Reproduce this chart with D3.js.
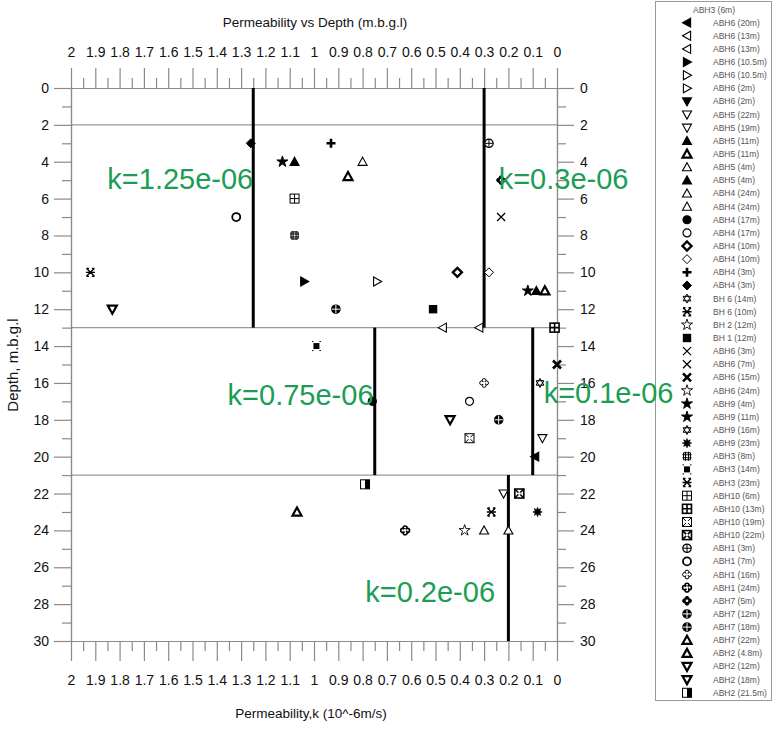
<!DOCTYPE html>
<html>
<head>
<meta charset="utf-8">
<script src="https://cdn.jsdelivr.net/npm/d3@7"></script>
<style>
  body { margin: 0; background: #fff; }
  svg { font-family: "Liberation Sans", Arial, sans-serif; }
  .tick text { font-size: 14px; fill: #111; }
  .klabel { font-size: 29px; fill: #1c9d55; }
  .leg text { font-size: 8.5px; fill: #555; }
</style>
</head>
<body>
<svg id="chart" width="774" height="729"></svg>
<script>
// legend entries, top to bottom (first one has no marker)
const legendLabels = [
  "ABH3 (6m)", "ABH6 (20m)", "ABH6 (13m)", "ABH6 (13m)", "ABH6 (10.5m)", "ABH6 (10.5m)",
  "ABH6 (2m)", "ABH6 (2m)", "ABH5 (22m)", "ABH5 (19m)", "ABH5 (11m)", "ABH5 (11m)",
  "ABH5 (4m)", "ABH5 (4m)", "ABH4 (24m)", "ABH4 (24m)", "ABH4 (17m)", "ABH4 (17m)",
  "ABH4 (10m)", "ABH4 (10m)", "ABH4 (3m)", "ABH4 (3m)", "BH 6 (14m)", "BH 6 (10m)",
  "BH 2 (12m)", "BH 1 (12m)", "ABH6 (3m)", "ABH6 (7m)", "ABH6 (15m)", "ABH6 (24m)",
  "ABH9 (4m)", "ABH9 (11m)", "ABH9 (16m)", "ABH9 (23m)", "ABH3 (8m)", "ABH3 (14m)",
  "ABH3 (23m)", "ABH10 (6m)", "ABH10 (13m)", "ABH10 (19m)", "ABH10 (22m)", "ABH1 (3m)",
  "ABH1 (7m)", "ABH1 (16m)", "ABH1 (24m)", "ABH7 (5m)", "ABH7 (12m)", "ABH7 (18m)",
  "ABH7 (22m)", "ABH2 (4.8m)", "ABH2 (12m)", "ABH2 (18m)", "ABH2 (21.5m)"
];

// marker code per legend entry: shape-style (f filled, o open, b bold)
const legendSymbols = [
  "", "triL-f", "triL-o", "triL-o", "triR-f", "triR-o",
  "triR-o", "triD-f", "triD-o", "triD-o", "triU-f", "triU-b",
  "triU-o", "triU-f", "triU-o", "triU-o", "circle-f", "circle-o",
  "diamond-b", "diamond-o", "plus-f", "diamond-f", "hexagram-o", "asterisk-b",
  "star-o", "square-f", "x-o", "x-o", "x-b", "star-o",
  "star-f", "star-f", "hexagram-o", "burst-f", "hash-o", "dotsq-f",
  "asterisk-b", "boxplus-o", "boxplus-b", "boxx-o", "boxx-b", "circleplus-o",
  "circle-b", "clover-o", "clover-b", "flower-f", "circleplus-b", "circleplus-b",
  "triU-b", "triU-b", "triD-b", "triD-b", "halfsq-o"
];

// measured samples: legend index, permeability (10^-6 m/s), depth (m)
const samples = [
  {s: 21, k: 1.26, d: 3}, {s: 30, k: 1.13, d: 4}, {s: 13, k: 1.08, d: 4},
  {s: 37, k: 1.08, d: 6}, {s: 42, k: 1.32, d: 7}, {s: 34, k: 1.08, d: 8},
  {s: 4, k: 1.04, d: 10.5}, {s: 23, k: 1.92, d: 10}, {s: 50, k: 1.83, d: 12},
  {s: 20, k: 0.93, d: 3}, {s: 12, k: 0.80, d: 4}, {s: 49, k: 0.86, d: 4.8},
  {s: 41, k: 0.28, d: 3}, {s: 45, k: 0.23, d: 5}, {s: 27, k: 0.23, d: 7},
  {s: 18, k: 0.41, d: 10}, {s: 19, k: 0.28, d: 10}, {s: 5, k: 0.74, d: 10.5},
  {s: 46, k: 0.91, d: 12}, {s: 25, k: 0.51, d: 12}, {s: 31, k: 0.12, d: 11},
  {s: 10, k: 0.085, d: 11}, {s: 11, k: 0.05, d: 11}, {s: 2, k: 0.47, d: 13},
  {s: 3, k: 0.32, d: 13}, {s: 38, k: 0.01, d: 13}, {s: 35, k: 0.99, d: 14},
  {s: 28, k: 0.0, d: 15}, {s: 43, k: 0.30, d: 16}, {s: 32, k: 0.07, d: 16},
  {s: 17, k: 0.36, d: 17}, {s: 16, k: 0.76, d: 17}, {s: 51, k: 0.44, d: 18},
  {s: 47, k: 0.24, d: 18}, {s: 39, k: 0.36, d: 19}, {s: 9, k: 0.06, d: 19},
  {s: 1, k: 0.09, d: 20}, {s: 52, k: 0.79, d: 21.5}, {s: 8, k: 0.22, d: 22},
  {s: 40, k: 0.155, d: 22}, {s: 36, k: 0.27, d: 23}, {s: 33, k: 0.08, d: 23},
  {s: 44, k: 0.625, d: 24}, {s: 29, k: 0.38, d: 24}, {s: 14, k: 0.30, d: 24},
  {s: 15, k: 0.20, d: 24}, {s: 48, k: 1.07, d: 23}
];

// design permeability per depth interval
const kLines = [
  {k: 1.25, top: 0, bottom: 13}, {k: 0.3, top: 0, bottom: 13},
  {k: 0.75, top: 13, bottom: 21}, {k: 0.1, top: 13, bottom: 21},
  {k: 0.2, top: 21, bottom: 30}
];
const kLabels = [
  {text: "k=1.25e-06", k: 1.25, d: 5.5, anchor: "end"},
  {text: "k=0.3e-06", k: 0.24, d: 5.5, anchor: "start"},
  {text: "k=0.75e-06", k: 0.755, d: 17.2, anchor: "end"},
  {text: "k=0.1e-06", k: 0.055, d: 17.1, anchor: "start"},
  {text: "k=0.2e-06", k: 0.255, d: 27.9, anchor: "end"}
];
const layerDepths = [2, 13, 21];

const svg = d3.select('#chart');
const x = d3.scaleLinear().domain([2, 0]).range([71, 557]);
const y = d3.scaleLinear().domain([0, 30]).range([88, 641]);

const majorX = d3.range(0, 21).map(i => i / 10);
const minorX = d3.range(0, 20).map(i => i / 10 + 0.05);
const majorY = d3.range(0, 31, 2);
const minorY = d3.range(1, 30, 2);
const fmt = v => (Math.round(v * 10) / 10).toString();

function styleAxis(g) {
  g.selectAll('line').attr('stroke', '#8a8a8a').attr('stroke-width', 1.2);
  g.select('.domain').attr('stroke', '#8a8a8a').attr('stroke-width', 1.2);
}

// layer boundaries
svg.selectAll('.layer')
  .data(layerDepths)
  .enter()
  .append('line')
  .attr('x1', x(2)).attr('x2', x(0))
  .attr('y1', d => y(d)).attr('y2', d => y(d))
  .attr('stroke', '#999').attr('stroke-width', 1.3);

// axes
svg.append('g').attr('transform', `translate(0,${y(0)})`)
  .call(d3.axisTop(x).tickValues(majorX).tickFormat(fmt).tickSize(20).tickSizeOuter(0).tickPadding(11))
  .call(styleAxis);
svg.append('g').attr('transform', `translate(0,${y(0)})`)
  .call(d3.axisTop(x).tickValues(minorX).tickFormat('').tickSize(10).tickSizeOuter(0))
  .call(styleAxis);
svg.append('g').attr('transform', `translate(0,${y(30)})`)
  .call(d3.axisBottom(x).tickValues(majorX).tickFormat(fmt).tickSize(20).tickSizeOuter(0).tickPadding(14))
  .call(styleAxis);
svg.append('g').attr('transform', `translate(0,${y(30)})`)
  .call(d3.axisBottom(x).tickValues(minorX).tickFormat('').tickSize(10).tickSizeOuter(0))
  .call(styleAxis);
svg.append('g').attr('transform', `translate(${x(2)},0)`)
  .call(d3.axisLeft(y).tickValues(majorY).tickSize(17).tickSizeOuter(0).tickPadding(5))
  .call(styleAxis);
svg.append('g').attr('transform', `translate(${x(2)},0)`)
  .call(d3.axisLeft(y).tickValues(minorY).tickFormat('').tickSize(9).tickSizeOuter(0))
  .call(styleAxis);
svg.append('g').attr('transform', `translate(${x(0)},0)`)
  .call(d3.axisRight(y).tickValues(majorY).tickSize(17).tickSizeOuter(0).tickPadding(6))
  .call(styleAxis);
svg.append('g').attr('transform', `translate(${x(0)},0)`)
  .call(d3.axisRight(y).tickValues(minorY).tickFormat('').tickSize(9).tickSizeOuter(0))
  .call(styleAxis);

// titles
svg.append('text').attr('x', 315).attr('y', 27).attr('text-anchor', 'middle')
  .style('font-size', '13.5px').attr('fill', '#111').text('Permeability vs Depth (m.b.g.l)');
svg.append('text').attr('x', 311).attr('y', 718).attr('text-anchor', 'middle')
  .style('font-size', '13.5px').attr('fill', '#111').text('Permeability,k (10^-6m/s)');
svg.append('text').attr('transform', 'translate(18,365) rotate(-90)').attr('text-anchor', 'middle')
  .style('font-size', '15px').attr('fill', '#111').text('Depth, m.b.g.l');

// k lines
svg.selectAll('.kline')
  .data(kLines)
  .enter()
  .append('line')
  .attr('x1', d => x(d.k)).attr('x2', d => x(d.k))
  .attr('y1', d => y(d.top)).attr('y2', d => y(d.bottom))
  .attr('stroke', '#000').attr('stroke-width', 3);

// marker drawing
function drawSymbol(g, code) {
  if (!code) return;
  const [shape, style] = code.split('-');
  const fill = style === 'f' ? '#000' : 'none';
  const sw = style === 'b' ? 2.2 : 1.1;
  const r = 4.5;
  const tri = `M0,${-r}L${r},${r * 0.8}L${-r},${r * 0.8}Z`;
  const rot = {triU: 0, triR: 90, triD: 180, triL: -90};
  const path = d => g.append('path').attr('d', d).attr('stroke', '#000');
  if (shape in rot) {
    path(tri).attr('transform', `rotate(${rot[shape]})`)
      .attr('fill', style === 'f' ? '#000' : '#fff').attr('stroke-width', sw)
      .attr('stroke-linejoin', 'miter');
  } else if (shape === 'circle') {
    g.append('circle').attr('r', 4).attr('fill', fill === 'none' ? '#fff' : fill)
      .attr('stroke', '#000').attr('stroke-width', style === 'b' ? 1.8 : 1.2);
  } else if (shape === 'diamond') {
    path(`M0,${-r}L${r},0L0,${r}L${-r},0Z`).attr('fill', fill === 'none' ? '#fff' : fill)
      .attr('stroke-width', style === 'b' ? 2.4 : 1);
  } else if (shape === 'plus') {
    path(`M${-r},0H${r}M0,${-r}V${r}`).attr('fill', 'none').attr('stroke-width', 2.6);
  } else if (shape === 'hexagram') {
    path(`M0,-4.5L3.9,2.25L-3.9,2.25ZM0,4.5L3.9,-2.25L-3.9,-2.25Z`).attr('fill', 'none').attr('stroke-width', 1);
  } else if (shape === 'asterisk') {
    path(`M-4,-4L4,4M4,-4L-4,4M-4.5,0H4.5M-4,-4H-1.5M1.5,-4H4M-4,4H-1.5M1.5,4H4`).attr('fill', 'none').attr('stroke-width', 1.4);
  } else if (shape === 'star') {
    path(d3.symbol(d3.symbolStar, 38)()).attr('fill', fill === 'none' ? '#fff' : '#000').attr('stroke-width', 0.9);
  } else if (shape === 'square') {
    g.append('rect').attr('x', -4.2).attr('y', -4.2).attr('width', 8.4).attr('height', 8.4).attr('fill', '#000');
  } else if (shape === 'x') {
    path(`M-4,-4L4,4M4,-4L-4,4`).attr('fill', 'none').attr('stroke-width', style === 'b' ? 2.6 : 1.3);
  } else if (shape === 'burst') {
    const pts = d3.range(16).map(i => {
      const a = i * Math.PI / 8, rr = i % 2 ? 2.6 : 4.8;
      return [rr * Math.sin(a), -rr * Math.cos(a)];
    });
    path(d3.line()(pts) + 'Z').attr('fill', '#000').attr('stroke-width', 0.5);
  } else if (shape === 'hash') {
    path(`M-3.5,-3.5H3.5V3.5H-3.5ZM-1.5,-4.5V4.5M1.5,-4.5V4.5M-4.5,-1.5H4.5M-4.5,1.5H4.5`).attr('fill', 'none').attr('stroke-width', 1);
  } else if (shape === 'dotsq') {
    g.append('rect').attr('x', -3).attr('y', -3).attr('width', 6).attr('height', 6).attr('fill', '#000');
    path(`M-4.5,-4.5h1.5M3,-4.5h1.5M-4.5,4.5h1.5M3,4.5h1.5`).attr('stroke-width', 1);
  } else if (shape === 'boxplus' || shape === 'boxx') {
    g.append('rect').attr('x', -4.5).attr('y', -4.5).attr('width', 9).attr('height', 9)
      .attr('fill', '#fff').attr('stroke', '#000').attr('stroke-width', style === 'b' ? 1.6 : 1);
    const inner = shape === 'boxplus' ? `M-4.5,0H4.5M0,-4.5V4.5` : `M-4.5,-4.5L4.5,4.5M4.5,-4.5L-4.5,4.5`;
    path(inner).attr('fill', 'none').attr('stroke-width', style === 'b' ? 1.6 : 1);
    if (shape === 'boxx') g.append('rect').attr('x', -1.2).attr('y', -1.2).attr('width', 2.4).attr('height', 2.4).attr('fill', '#fff');
  } else if (shape === 'circleplus') {
    g.append('circle').attr('r', 4.2).attr('fill', style === 'b' ? '#000' : '#fff').attr('stroke', '#000').attr('stroke-width', 1.2);
    path(`M-4.2,0H4.2M0,-4.2V4.2`).attr('fill', 'none').attr('stroke', style === 'b' ? '#fff' : '#000').attr('stroke-width', 1);
  } else if (shape === 'clover' || shape === 'flower') {
    [[0, -2.4], [2.4, 0], [0, 2.4], [-2.4, 0]].forEach(p => {
      g.append('circle').attr('cx', p[0]).attr('cy', p[1]).attr('r', 2)
        .attr('fill', shape === 'flower' ? '#000' : '#fff').attr('stroke', '#000')
        .attr('stroke-width', style === 'b' ? 1.6 : 1);
    });
    g.append('circle').attr('r', 1.3).attr('fill', '#fff');
  } else if (shape === 'halfsq') {
    g.append('rect').attr('x', -4.5).attr('y', -4.5).attr('width', 9).attr('height', 9)
      .attr('fill', '#fff').attr('stroke', '#000').attr('stroke-width', 1);
    g.append('rect').attr('x', 0).attr('y', -4.5).attr('width', 4.5).attr('height', 9).attr('fill', '#000');
  }
}

// sample markers
svg.selectAll('.pt')
  .data(samples)
  .enter()
  .append('g')
  .attr('class', 'pt')
  .attr('transform', d => `translate(${x(d.k)},${y(d.d)})`)
  .each(function(d) { drawSymbol(d3.select(this), legendSymbols[d.s]); });

// legend
const leg = svg.append('g').attr('class', 'leg');
leg.append('rect').attr('x', 655.5).attr('y', 1.5).attr('width', 116).attr('height', 699)
  .attr('fill', '#fff').attr('stroke', '#999').attr('stroke-width', 1);
const rows = leg.selectAll('.row')
  .data(legendLabels)
  .enter()
  .append('g')
  .attr('transform', (d, i) => `translate(0,${i === 0 ? 10 : 9.5 + i * 13.14})`);
rows.append('text')
  .attr('x', (d, i) => i === 0 ? 693 : 713)
  .attr('dy', '0.35em')
  .text(d => d);
rows.each(function(d, i) {
  if (i === 0) return;
  const g = d3.select(this).append('g').attr('transform', 'translate(687,0)');
  drawSymbol(g, legendSymbols[i]);
});

// k annotations (on top of everything, incl. legend edge)
svg.selectAll('.klabel')
  .data(kLabels)
  .enter()
  .append('text')
  .attr('class', 'klabel')
  .attr('x', d => x(d.k))
  .attr('y', d => y(d.d))
  .attr('text-anchor', d => d.anchor)
  .text(d => d.text);
</script>
</body>
</html>
